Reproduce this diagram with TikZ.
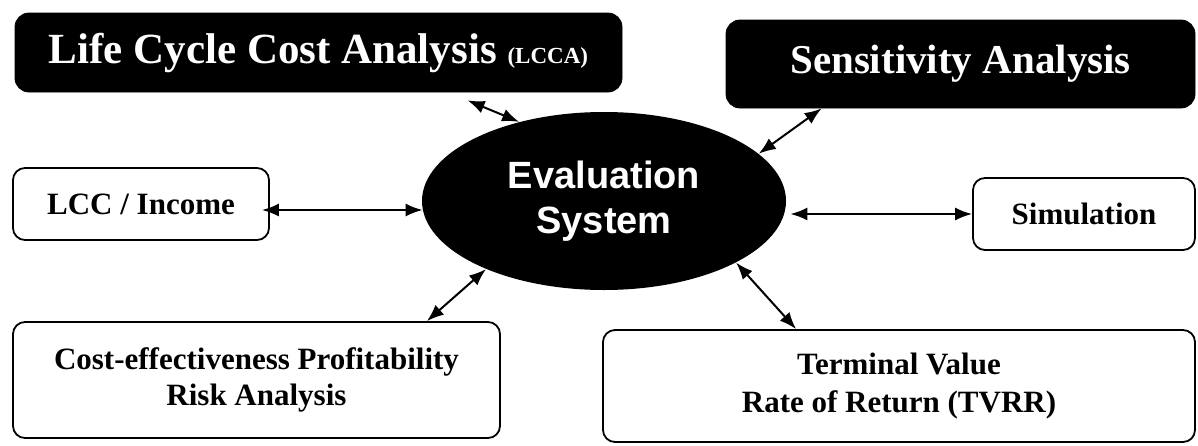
\documentclass[tikz,border=0pt]{standalone}
\usepackage{fontspec}
\setmainfont{Liberation Serif}
\newfontfamily\evalfont{Liberation Sans}
\usepackage{tikz}
\usetikzlibrary{arrows.meta,shapes,positioning,calc}
\tikzset{
    darkbox/.style={draw, fill=black, text=white, rounded corners=7pt, inner sep=0pt, font=\bfseries},
    plainbox/.style={draw, line width=0.9pt, rounded corners=6pt, inner sep=0pt, align=center,
        font=\bfseries\fontsize{15.5}{18}\selectfont},
    blob/.style={ellipse, fill=black, text=white, inner sep=0pt, align=center,
        font=\evalfont\bfseries\fontsize{19}{22.5}\selectfont},
    biarrow/.style={{Latex[length=8.5pt, width=6.5pt]}-{Latex[length=8.5pt, width=6.5pt]}, line width=1pt}
}

\begin{document}
\begin{tikzpicture}[x=0.5pt, y=-0.5pt]
    \useasboundingbox (0,0) rectangle (1198,445);
    % centre
    \node[blob, minimum width=182pt, minimum height=89pt] (eval) at (604,201) {Evaluation\\System};
    % boxes round it
    \node[darkbox, minimum width=303.5pt, minimum height=39.5pt, font=\bfseries\fontsize{21.5}{24}\selectfont] (lcca) at (318.5,52.5)
        {Life Cycle Cost Analysis {\fontsize{11.5}{13}\selectfont(LCCA)}};
    \node[darkbox, minimum width=234.5pt, minimum height=44pt, font=\bfseries\fontsize{20.5}{24}\selectfont] (sens) at (960.5,64)
        {Sensitivity Analysis};
    \node[plainbox, minimum width=128pt, minimum height=36pt] (lcc) at (141,204) {LCC / Income};
    \node[plainbox, minimum width=111pt, minimum height=36pt] (sim) at (1084,214) {Simulation};
    \node[plainbox, minimum width=243.5pt, minimum height=58pt] (cep) at (256.5,380)
        {Cost-effectiveness Profitability\\Risk Analysis};
    \node[plainbox, minimum width=296pt, minimum height=56pt, font=\bfseries\fontsize{15.5}{19}\selectfont] (tvrr) at (899,386)
        {Terminal Value\\Rate of Return (TVRR)};
    % connectors
    \draw[biarrow] ($(lcca.south west)+(453,8)$) -- (eval.137);
    \draw[biarrow] ($(sens.south west)+(96,0)$) -- (eval.17);
    \draw[biarrow] ($(lcc.east)+(-8,6)$) -- ($(eval.west)+(1,9)$);
    \draw[biarrow] ($(eval.east)+(4,13)$) -- (sim.west);
    \draw[biarrow] ($(cep.north east)+(-74,0)$) -- (eval.210);
    \draw[biarrow] (eval.-25) -- ($(tvrr.north west)+(194,0)$);
\end{tikzpicture}
\end{document}
